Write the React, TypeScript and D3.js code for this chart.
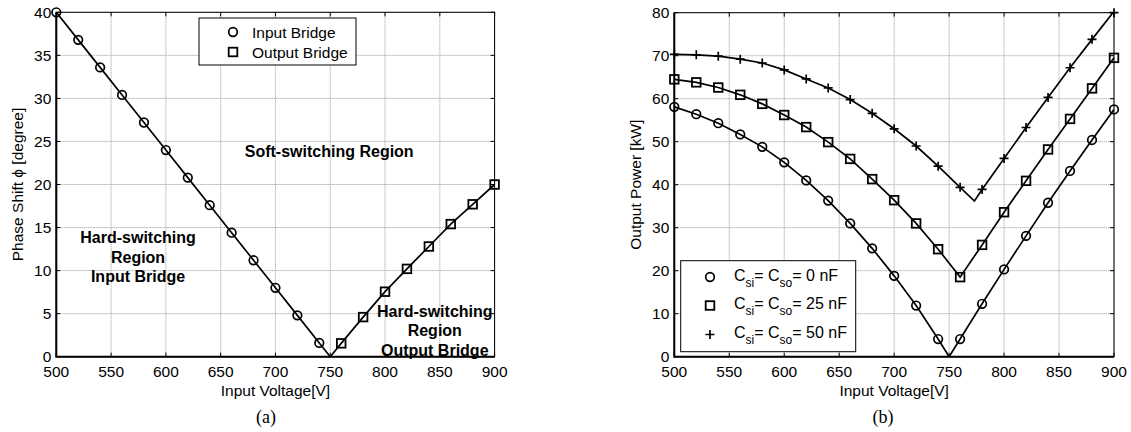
import React from "react";
import * as d3 from "d3";

// panel (a): phase shift against input voltage
const inputBridgeVolt = [500, 520, 540, 560, 580, 600, 620, 640, 660, 680, 700, 720, 740];
const inputBridgeShift = [40, 36.8, 33.6, 30.4, 27.2, 24.0, 20.8, 17.6, 14.4, 11.2, 8.0, 4.8, 1.6];
const outputBridgeVolt = [760, 780, 800, 820, 840, 860, 880, 900];
const outputBridgeShift = [1.55, 4.6, 7.55, 10.2, 12.8, 15.4, 17.7, 20.0];
const shiftZero = [750, 0];

// panel (b): output power against input voltage
const powerVolt = [500, 520, 540, 560, 580, 600, 620, 640, 660, 680, 700, 720, 740, 760, 780, 800, 820, 840, 860, 880, 900];
const power0nF = [58.1, 56.4, 54.3, 51.7, 48.8, 45.2, 41.0, 36.3, 31.0, 25.2, 18.8, 11.9, 4.1, 4.1, 12.3, 20.3, 28.1, 35.8, 43.2, 50.4, 57.5];
const power25nF = [64.5, 63.8, 62.6, 60.9, 58.8, 56.2, 53.4, 49.9, 46.0, 41.3, 36.4, 31.0, 25.0, 18.5, 26.0, 33.6, 40.9, 48.2, 55.3, 62.4, 69.5];
const power50nF = [70.3, 70.2, 69.9, 69.2, 68.3, 66.7, 64.6, 62.5, 59.8, 56.6, 53.0, 49.0, 44.3, 39.4, 38.9, 46.1, 53.3, 60.3, 67.2, 73.8, 80.3];
const vertex0nF = [750, 0];
const vertex50nF = [773, 36.2];

// tick values
const voltTicks = [500, 550, 600, 650, 700, 750, 800, 850, 900];
const shiftTicks = [0, 5, 10, 15, 20, 25, 30, 35, 40];
const powerTicks = [0, 10, 20, 30, 40, 50, 60, 70, 80];

const FONT = "Arial, 'Liberation Sans', Helvetica, sans-serif";

type Pt = [number, number];
const zip = (xs: number[], ys: number[]): Pt[] => xs.map((x, i) => [x, ys[i]] as Pt);
const byX = (a: Pt, b: Pt) => a[0] - b[0];

function Marker({ kind, x, y }: { kind: string; x: number; y: number }) {
    if (kind === "circle")
        return <circle cx={x} cy={y} r={4.3} fill="none" stroke="#000" strokeWidth={1.7} />;
    if (kind === "square")
        return <rect x={x - 4.3} y={y - 4.3} width={8.6} height={8.6} fill="none" stroke="#000" strokeWidth={1.8} />;
    return (
        <path d={`M${x - 4.5},${y}H${x + 4.5}M${x},${y - 4.5}V${y + 4.5}`} stroke="#000" strokeWidth={1.7} />
    );
}

function Frame({ x, y, xTicks, yTicks, xLabel, yLabel, yLabelX, clipId }: any) {
    const [x0, x1] = x.range();
    const [y0, y1] = y.range();
    return (
        <g fontFamily={FONT} fontSize={15.5}>
            <defs>
                <clipPath id={clipId}>
                    <rect x={x0} y={y1} width={x1 - x0} height={y0 - y1} />
                </clipPath>
            </defs>
            {/* dotted grid */}
            {xTicks.map((t: number) => (
                <line key={"gx" + t} x1={x(t)} x2={x(t)} y1={y1} y2={y0} stroke="#999" strokeWidth={1} strokeDasharray="1 1" />
            ))}
            {yTicks.map((t: number) => (
                <line key={"gy" + t} x1={x0} x2={x1} y1={y(t)} y2={y(t)} stroke="#999" strokeWidth={1} strokeDasharray="1 1" />
            ))}
            {/* inner ticks on all sides */}
            {xTicks.map((t: number) => (
                <path key={"tx" + t} d={`M${x(t)},${y0}v-4M${x(t)},${y1}v4`} stroke="#000" strokeWidth={1} />
            ))}
            {yTicks.map((t: number) => (
                <path key={"ty" + t} d={`M${x0},${y(t)}h4M${x1},${y(t)}h-4`} stroke="#000" strokeWidth={1} />
            ))}
            <rect x={x0} y={y1} width={x1 - x0} height={y0 - y1} fill="none" stroke="#000" strokeWidth={1} />
            <path d={`M${x0},${y1}V${y0}H${x1}`} fill="none" stroke="#000" strokeWidth={2} />
            {/* tick labels */}
            {xTicks.map((t: number) => (
                <text key={"lx" + t} x={x(t)} y={y0 + 20} textAnchor="middle" fill="#000">{t}</text>
            ))}
            {yTicks.map((t: number) => (
                <text key={"ly" + t} x={x0 - 5} y={y(t)} dy="0.36em" textAnchor="end" fill="#000">{t}</text>
            ))}
            {/* axis titles */}
            <text x={(x0 + x1) / 2} y={y0 + 39} textAnchor="middle" fill="#000">{xLabel}</text>
            <text transform={`translate(${yLabelX},${(y0 + y1) / 2}) rotate(-90)`} textAnchor="middle" fill="#000">{yLabel}</text>
        </g>
    );
}

function PhasePanel() {
    const x = d3.scaleLinear().domain([500, 900]).range([56.3, 494.6]);
    const y = d3.scaleLinear().domain([0, 40]).range([356.7, 12.3]);
    const line = d3.line<Pt>().x((d) => x(d[0])).y((d) => y(d[1]));

    const inPts = zip(inputBridgeVolt, inputBridgeShift);
    const outPts = zip(outputBridgeVolt, outputBridgeShift);
    const curve = [...inPts, shiftZero as Pt, ...outPts].sort(byX);

    return (
        <g>
            <Frame x={x} y={y} xTicks={voltTicks} yTicks={shiftTicks} clipId="clipA"
                xLabel="Input Voltage[V]" yLabel="Phase Shift ϕ [degree]" yLabelX={23} />
            <path d={line(curve) || ""} fill="none" stroke="#000" strokeWidth={1.7} />
            {inPts.map((d, i) => <Marker key={"i" + i} kind="circle" x={x(d[0])} y={y(d[1])} />)}
            {outPts.map((d, i) => <Marker key={"o" + i} kind="square" x={x(d[0])} y={y(d[1])} />)}

            {/* region notes */}
            <g fontFamily={FONT} fontSize={16} fontWeight="bold" fill="#000">
                <text x={x(672)} y={y(23.9)} dy="0.36em">Soft-switching Region</text>
                <text textAnchor="middle">
                    <tspan x={x(574.6)} y={y(13.9)} dy="0.36em">Hard-switching</tspan>
                    <tspan x={x(574.6)} y={y(11.6)} dy="0.36em">Region</tspan>
                    <tspan x={x(574.6)} y={y(9.4)} dy="0.36em">Input Bridge</tspan>
                </text>
                <text textAnchor="middle">
                    <tspan x={x(845.4)} y={y(5.3)} dy="0.36em">Hard-switching</tspan>
                    <tspan x={x(845.4)} y={y(3.1)} dy="0.36em">Region</tspan>
                    <tspan x={x(845.4)} y={y(0.8)} dy="0.36em">Output Bridge</tspan>
                </text>
            </g>

            {/* legend */}
            <g fontFamily={FONT} fontSize={15.5}>
                <rect x={199} y={18} width={157} height={47} fill="#fff" stroke="#000" strokeWidth={1} />
                <Marker kind="circle" x={233} y={32} />
                <text x={252} y={32} dy="0.36em">Input Bridge</text>
                <Marker kind="square" x={233} y={52} />
                <text x={252} y={52} dy="0.36em">Output Bridge</text>
            </g>
            <text x={266} y={423} textAnchor="middle" fontFamily="'Times New Roman', 'Liberation Serif', serif" fontSize={18}>(a)</text>
        </g>
    );
}

function LegendLabel({ x, y, value }: { x: number; y: number; value: string }) {
    return (
        <text x={x} y={y} dy="0.36em" fontFamily={FONT} fontSize={16}>
            C<tspan fontSize={12} dy={6}>si</tspan>
            <tspan dy={-6}>= C</tspan>
            <tspan fontSize={12} dy={6}>so</tspan>
            <tspan dy={-6}>{`= ${value} nF`}</tspan>
        </text>
    );
}

function PowerPanel() {
    const x = d3.scaleLinear().domain([500, 900]).range([674.3, 1114]);
    const y = d3.scaleLinear().domain([0, 80]).range([356.7, 12.7]);
    const line = d3.line<Pt>().x((d) => x(d[0])).y((d) => y(d[1]));

    const pts0 = zip(powerVolt, power0nF);
    const pts25 = zip(powerVolt, power25nF);
    const pts50 = zip(powerVolt, power50nF);
    const series = [
        { pts: pts0, curve: [...pts0, vertex0nF as Pt].sort(byX), kind: "circle" },
        { pts: pts25, curve: pts25, kind: "square" },
        { pts: pts50, curve: [...pts50, vertex50nF as Pt].sort(byX), kind: "plus" },
    ];

    return (
        <g>
            <Frame x={x} y={y} xTicks={voltTicks} yTicks={powerTicks} clipId="clipB"
                xLabel="Input Voltage[V]" yLabel="Output Power [kW]" yLabelX={641} />
            {series.map((s) => (
                <g key={s.kind}>
                    <path d={line(s.curve) || ""} fill="none" stroke="#000" strokeWidth={1.7} clipPath="url(#clipB)" />
                    {s.pts.map((d, i) => <Marker key={i} kind={s.kind} x={x(d[0])} y={y(Math.min(d[1], 80))} />)}
                </g>
            ))}

            {/* legend */}
            <rect x={680.7} y={260.7} width={175} height={91} fill="#fff" stroke="#000" strokeWidth={1} />
            <Marker kind="circle" x={710} y={277} />
            <LegendLabel x={734} y={275} value="0" />
            <Marker kind="square" x={710} y={305.5} />
            <LegendLabel x={734} y={303.5} value="25" />
            <Marker kind="plus" x={710} y={334.5} />
            <LegendLabel x={734} y={332.5} value="50" />

            <text x={883} y={423} textAnchor="middle" fontFamily="'Times New Roman', 'Liberation Serif', serif" fontSize={18}>(b)</text>
        </g>
    );
}

export default function App() {
    return (
        <svg width={1131} height={432} style={{ position: "absolute", left: 0, top: 0, background: "#fff" }}>
            <rect width={1131} height={432} fill="#fff" />
            <PhasePanel />
            <PowerPanel />
        </svg>
    );
}
